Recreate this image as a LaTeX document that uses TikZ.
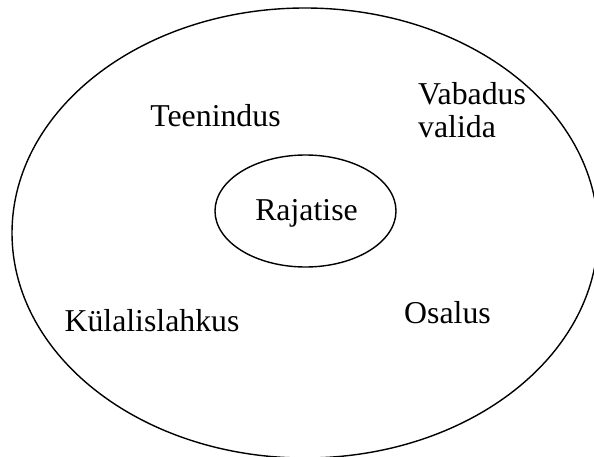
\documentclass[tikz,border=0pt]{standalone}
\usepackage{fontspec}
\setmainfont{Liberation Serif}
\begin{document}
\begin{tikzpicture}[x=1pt,y=1pt,
  ring/.style={draw=black,line width=1.4pt},
  lbl/.style={inner sep=0pt,font=\fontsize{31.8}{33.4}\selectfont}]
\useasboundingbox (0,0) rectangle (594,456);
\begin{scope}
\clip (0,0) rectangle (594,456);
\draw[ring] (305,223) ellipse [x radius=293, y radius=225];
\end{scope}
\draw[ring] (305.5,245) ellipse [x radius=90.5, y radius=56];
\node[lbl,anchor=base] (raj) at (306.5,236) {Rajatise};
\node[lbl,anchor=base] (teen) at (215.5,329) {Teenindus};
\node[lbl,anchor=base west,align=left] (vab) at (418,318) {Vabadus\\valida};
\node[lbl,anchor=base] (kul) at (152,125) {Külalislahkus};
\node[lbl,anchor=base] (osa) at (447.5,132.7) {Osalus};
\end{tikzpicture}
\end{document}
